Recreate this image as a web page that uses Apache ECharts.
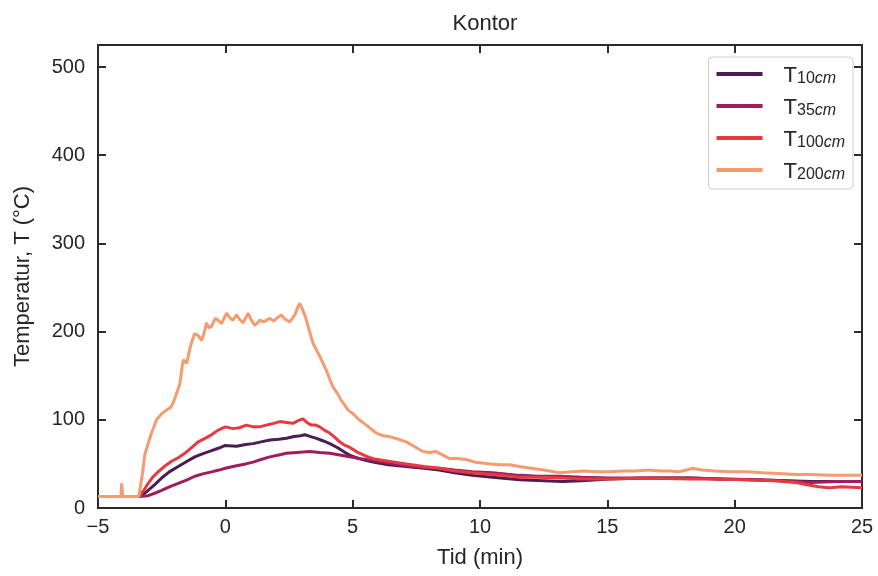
<!DOCTYPE html>
<html>
<head>
<meta charset="utf-8">
<script src="https://cdn.jsdelivr.net/npm/echarts@6/dist/echarts.min.js"></script>
<style>html,body{margin:0;padding:0;background:#fff;}#c{width:878px;height:576px;}</style>
</head>
<body>
<div id="c"></div>
<script>
// ---- data ----
const t10Time = [-5,-3.4,-3.2,-3.03,-2.75,-2.5,-2.2,-1.85,-1.5,-1.2,-0.85,-0.54,-0.25,0,0.44,0.8,1.09,1.4,1.75,2.1,2.4,2.7,2.95,3.12,3.35,3.58,3.85,4.1,4.3,4.49,4.7,4.88,5.14,5.5,5.8,6.4,7.1,7.8,8.4,9,9.7,10.5,11.55,12.5,13.25,14,15.08,16.5,18.2,19.5,20.5,22,23,24,25];
const t10Vals = [13,13,16,20,27,34,41,47,53,58,62,65,68,71,70,72,73,75,77,78,79,81,82,83,81,79,76,73,70,67,63,60,57,54,52,49,47,45,43,40,37,35,32,31,30,31,33,34,34,33,32,31,30,30,30];

const t35Time = [-5,-3.4,-3.03,-2.75,-2.5,-2.2,-1.85,-1.5,-1.2,-0.85,-0.54,-0.25,0,0.44,0.8,1.09,1.4,1.75,2.1,2.4,2.8,3.31,3.7,4.1,4.49,4.88,5.3,5.8,6.4,7.1,7.8,8.4,9,9.7,10.5,11.55,12.3,13.1,14,15.08,16.5,18.2,19.5,21,22,23,24,25];
const t35Vals = [13,13,14,17,20,24,28,32,36,39,41,43,45,48,50,52,55,58,60,62,63,64,63,62,60,58,56,54,51,48,46,45,43,41,40,37,36,36,35,34,34,34,33,32,31,29,30,30];

const t100Time = [-5,-3.4,-3.35,-3.2,-3.03,-2.85,-2.64,-2.4,-2.11,-1.85,-1.59,-1.3,-1.07,-0.8,-0.54,-0.3,0,0.3,0.55,0.83,1.1,1.35,1.6,1.9,2.14,2.4,2.66,2.85,3.05,3.2,3.38,3.55,3.71,3.9,4.1,4.3,4.49,4.7,4.88,5.14,5.5,5.8,6.4,7.1,7.8,8.4,9,9.7,10.5,11.2,11.55,12.3,13.25,14,15.08,16.5,18.2,19,20.4,21.5,22.4,22.9,23.3,23.7,24.2,25];
const t100Vals = [13,13,13,20,28,35,41,47,53,57,62,69,75,79,83,88,92,90,91,94,92,92,94,96,98,97,96,99,101,97,94,94,92,88,85,80,75,71,69,64,59,56,53,50,47,45,42,40,38,36,35,35,34,33,33,34,33,33,32,31,29,26,24,23,24,23];

const t200Time = [-5,-4.2,-4.1,-4.07,-4.03,-3.4,-3.35,-3.25,-3.16,-3.03,-2.9,-2.7,-2.5,-2.31,-2.15,-2.05,-1.91,-1.78,-1.7,-1.65,-1.52,-1.39,-1.3,-1.2,-1.05,-0.93,-0.8,-0.74,-0.64,-0.54,-0.4,-0.28,-0.15,0.05,0.2,0.3,0.44,0.55,0.7,0.9,1.0,1.16,1.35,1.5,1.75,1.9,2.05,2.2,2.35,2.53,2.63,2.73,2.85,2.92,3.05,3.15,3.25,3.44,3.6,3.71,3.85,3.97,4.1,4.23,4.4,4.55,4.7,4.82,5.01,5.25,5.54,5.75,5.93,6.2,6.45,6.8,7.1,7.4,7.76,8.0,8.28,8.55,8.8,9.1,9.46,9.8,10.1,10.4,10.76,11.16,11.55,12.0,12.5,13.12,13.6,14.1,14.6,15.08,15.6,16.1,16.6,17.1,17.5,17.8,18.1,18.35,18.7,19.2,19.8,20.5,21.1,21.75,22.4,23.0,23.7,24.3,25];
const t200Vals = [13,13,13,28,13,13,14,40,61,73,85,100,107,111,114,119,130,142,160,168,164,181,190,198,195,190,202,210,204,206,215,213,209,221,215,213,219,214,210,221,214,207,213,211,215,212,216,219,214,211,215,219,228,232,224,216,206,187,178,172,163,156,146,137,130,122,116,111,107,100,94,89,85,82,81,78,75,70,64,63,64,60,56,56,55,52,51,50,49,49,47,45,43,40,41,42,41,41,42,42,43,42,42,41,43,45,43,42,41,41,40,39,38,38,37,37,37];

const seriesNames = ['T10','T35','T100','T200'];
const subNum = ['10','35','100','200'];
const colors = ['#4b1d50','#a01c5f','#e8393f','#f59b6f'];

const pairs = (t, v) => t.map((x, i) => [x, v[i]]);
const allData = [pairs(t10Time,t10Vals), pairs(t35Time,t35Vals), pairs(t100Time,t100Vals), pairs(t200Time,t200Vals)];

const FONT = 'Liberation Sans, Arial, sans-serif';
const axisCol = '#2b2b2b';
const txtCol = '#262626';
const fmtX = v => (v < 0 ? '\u2212' + Math.abs(v) : String(v));
const fmtY = v => (v % 100 === 0 ? String(v) : '');

const chart = echarts.init(document.getElementById('c'), null, {renderer: 'canvas'});
const baseX = {
  type: 'value', min: -5, max: 25, interval: 5,
  axisLine: {show: true, onZero: false, lineStyle: {color: axisCol, width: 2}},
  axisTick: {show: true, inside: true, length: 8, lineStyle: {color: axisCol, width: 2}},
  splitLine: {show: false}
};
const baseY = {
  type: 'value', min: 0, max: 525, interval: 100,
  axisLine: {show: true, onZero: false, lineStyle: {color: axisCol, width: 2}},
  axisTick: {show: true, inside: true, length: 8, lineStyle: {color: axisCol, width: 2}},
  splitLine: {show: false}
};

chart.setOption({
  animation: false,
  backgroundColor: '#ffffff',
  title: {
    text: 'Kontor', left: 480, top: 8, textAlign: 'center',
    textStyle: {fontFamily: FONT, fontSize: 22, fontWeight: 'normal', color: txtCol}
  },
  grid: {left: 98, right: 16, top: 45, bottom: 68, containLabel: false},
  xAxis: [
    Object.assign({}, baseX, {
      position: 'bottom',
      name: 'Tid (min)', nameLocation: 'middle', nameGap: 39,
      nameTextStyle: {fontFamily: FONT, fontSize: 22, color: txtCol},
      axisLabel: {show: true, margin: 9, fontFamily: FONT, fontSize: 20, color: txtCol, formatter: fmtX}
    }),
    Object.assign({}, baseX, {position: 'top', axisLabel: {show: false}})
  ],
  yAxis: [
    Object.assign({}, baseY, {
      position: 'left',
      name: 'Temperatur, T (°C)', nameLocation: 'middle', nameGap: 64, nameRotate: 90,
      nameTextStyle: {fontFamily: FONT, fontSize: 22, color: txtCol},
      axisLabel: {show: true, margin: 13, fontFamily: FONT, fontSize: 20, color: txtCol, formatter: fmtY}
    }),
    Object.assign({}, baseY, {position: 'right', axisLabel: {show: false}})
  ],
  legend: {
    orient: 'vertical', right: 25, top: 57,
    backgroundColor: '#ffffff', borderColor: '#cccccc', borderWidth: 1, borderRadius: 4,
    padding: [4, 8, 6, 8],
    itemWidth: 46, itemHeight: 4, itemGap: 6, itemTextGap: 5,
    icon: 'rect',
    data: seriesNames,
    formatter: name => {
      const i = seriesNames.indexOf(name);
      return '{t|T}{n|' + subNum[i] + '}{c|cm}';
    },
    textStyle: {
      fontFamily: FONT, color: txtCol,
      rich: {
        t: {fontSize: 22, fontFamily: FONT, color: txtCol, lineHeight: 26, verticalAlign: 'bottom', padding: [0, 0, 0, 16]},
        n: {fontSize: 16, fontFamily: FONT, color: txtCol, lineHeight: 16, verticalAlign: 'bottom', padding: [10, 0, 0, 0]},
        c: {fontSize: 16, fontFamily: FONT, fontStyle: 'italic', color: txtCol, lineHeight: 16, verticalAlign: 'bottom', padding: [10, 0, 0, 0]}
      }
    }
  },
  series: seriesNames.map((n, i) => ({
    name: n, type: 'line', data: allData[i],
    xAxisIndex: 0, yAxisIndex: 0,
    showSymbol: false, symbol: 'none', smooth: false,
    lineStyle: {color: colors[i], width: 3},
    itemStyle: {color: colors[i]},
    z: 2 + i
  }))
});
</script>
</body>
</html>
